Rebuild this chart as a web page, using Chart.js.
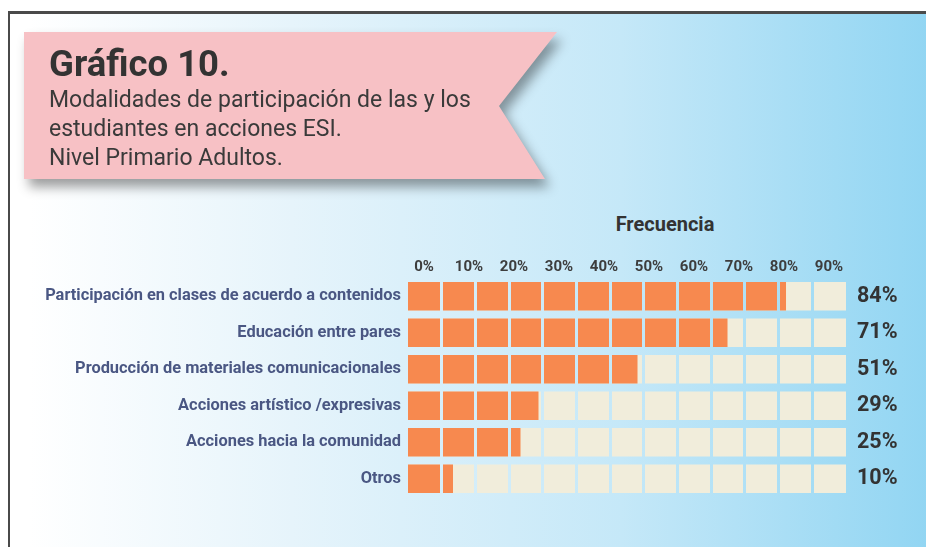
<!DOCTYPE html>
<html>
<head>
<meta charset="utf-8">
<script src="https://cdn.jsdelivr.net/npm/chart.js@4.4.1/dist/chart.umd.min.js"></script>
<style>
  html, body { margin: 0; padding: 0; }
  body {
    width: 926px; height: 547px; position: relative; overflow: hidden;
    background: #fff; font-family: Roboto, "Noto Sans", sans-serif;
  }
  #frame {
    position: absolute; left: 8px; top: 11px; width: 940px; height: 560px;
    border-top: 3px solid #4a4a4a; border-left: 2px solid #4a4a4a;
    background: linear-gradient(to right, #ffffff 2%, #e6f4fb 30%, #c5e8f8 65%, #8ed4f2 100%);
  }
  #bannerWrap {
    position: absolute; left: 24px; top: 32px; width: 560px; height: 160px;
    filter: drop-shadow(5px 8px 6px rgba(0, 0, 0, 0.38));
  }
  #banner {
    position: absolute; left: 0; top: 0; width: 533px; height: 147px;
    background: #f7c1c5;
    clip-path: polygon(0 0, 533px 0, 475px 74px, 521px 147px, 0 147px);
  }
  #banner h1 {
    position: absolute; left: 25px; top: 12px; margin: 0;
    font-size: 36.5px; line-height: 40px; font-weight: bold; color: #333;
  }
  #banner p {
    position: absolute; left: 25px; top: 53px; margin: 0;
    font-size: 23px; line-height: 29px; color: #3a3a3a;
  }
  #freq {
    position: absolute; left: 565px; top: 212px; width: 200px; text-align: center;
    font-size: 20px; line-height: 24px; font-weight: bold; color: #333;
  }
  #wrap { position: absolute; left: 0; top: 250px; width: 926px; height: 271px; }
</style>
</head>
<body>
<div id="frame"></div>
<div id="bannerWrap">
  <div id="banner">
    <h1>Gráfico 10.</h1>
    <p>Modalidades de participación de las y los<br>estudiantes en acciones ESI.<br>Nivel Primario Adultos.</p>
  </div>
</div>
<div id="freq">Frecuencia</div>
<div id="wrap"><canvas id="chart"></canvas></div>
<script>
const categories = [
  "Participación en clases de acuerdo a contenidos",
  "Educación entre pares",
  "Producción de materiales comunicacionales",
  "Acciones artístico /expresivas",
  "Acciones hacia la comunidad",
  "Otros"
];
const values = [84, 71, 51, 29, 25, 10];
const tickValues = [0, 10, 20, 30, 40, 50, 60, 70, 80, 90];
const cellCount = 13;
const pctLabels = values.map(v => v + "%");

// cut the track into cells, letting the page background show in the gaps
const cellGaps = {
  id: 'cellGaps',
  afterDatasetsDraw(chart) {
    const s = chart.scales.cells, a = chart.chartArea, ctx = chart.ctx;
    for (let i = 1; i < cellCount; i++) {
      const x = s.getPixelForValue(i);
      ctx.clearRect(x - 1.5, a.top, 3, a.bottom - a.top);
    }
  }
};

new Chart(document.getElementById("chart"), {
  type: 'bar',
  data: {
    labels: categories,
    datasets: [{
      label: 'Frecuencia',
      data: values,
      xAxisID: 'x',
      backgroundColor: '#f7894f',
      grouped: false,
      order: 1
    }, {
      label: 'track',
      data: categories.map(() => cellCount),
      xAxisID: 'cells',
      backgroundColor: '#f1eddb',
      grouped: false,
      order: 2
    }]
  },
  options: {
    indexAxis: 'y',
    responsive: true,
    maintainAspectRatio: false,
    animation: false,
    categoryPercentage: 0.78,
    barPercentage: 1,
    layout: { padding: 0 },
    plugins: {
      legend: { display: false },
      tooltip: { enabled: false }
    },
    scales: {
      x: {
        position: 'top',
        min: 0,
        max: 97.33,
        grid: { display: false, drawTicks: false },
        border: { display: false },
        afterBuildTicks(scale) {
          scale.ticks = tickValues.map(v => ({ value: v }));
        },
        afterFit(scale) { scale.height = 28; },
        ticks: {
          labelOffset: 16,
          padding: 2,
          maxRotation: 0,
          autoSkip: false,
          color: '#3d3d3d',
          font: { family: 'Roboto', size: 15, weight: 'bold' },
          callback: v => v + '%'
        }
      },
      cells: {
        axis: 'x',
        position: 'top',
        display: false,
        min: 0,
        max: cellCount
      },
      y: {
        position: 'left',
        grid: { display: false, drawTicks: false },
        border: { display: false },
        afterFit(scale) { scale.width = 408; },
        ticks: {
          padding: 7,
          color: '#4a5783',
          font: { family: 'Roboto', size: 16.4, weight: 'bold' }
        }
      },
      y2: {
        type: 'category',
        labels: pctLabels,
        position: 'right',
        offset: true,
        grid: { display: false, drawTicks: false },
        border: { display: false },
        afterFit(scale) { scale.width = 80; },
        ticks: {
          padding: 11,
          color: '#333',
          font: { family: 'Roboto', size: 21.5, weight: 'bold' }
        }
      }
    }
  },
  plugins: [cellGaps]
});
</script>
</body>
</html>
